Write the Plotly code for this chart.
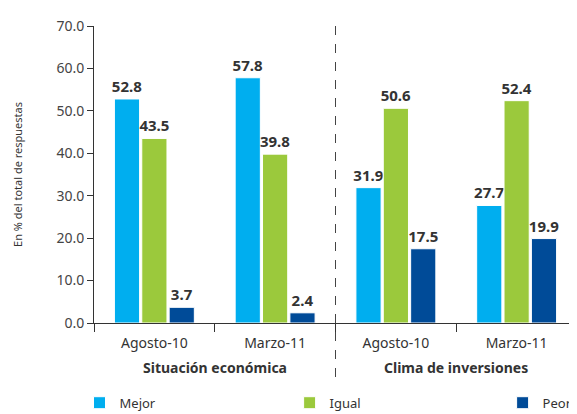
import plotly.graph_objects as go

categories = ["Agosto-10 ", "Marzo-11 ", "Agosto-10", "Marzo-11"]
tick_labels = ["Agosto-10", "Marzo-11", "Agosto-10", "Marzo-11"]
group_labels = ["Situación económica", "Clima de inversiones"]
series_names = ["Mejor", "Igual", "Peor"]
mejor = [52.8, 57.8, 31.9, 27.7]
igual = [43.5, 39.8, 50.6, 52.4]
peor = [3.7, 2.4, 17.5, 19.9]
colors = ["#00AEEF", "#9BC93C", "#004B98"]
legend_ids = ["legend", "legend2", "legend3"]

fig = go.Figure()
for name, vals, col, lg in zip(series_names, [mejor, igual, peor], colors, legend_ids):
    fig.add_trace(go.Bar(
        x=categories, y=vals, name=name, legend=lg,
        marker=dict(color=col, line=dict(color="white", width=1)),
        text=vals, texttemplate="%{y:.1f}", textposition="outside",
        constraintext="none",
        textfont=dict(family="Noto Sans", size=15, color="#333333", weight="bold"),
        cliponaxis=False,
    ))

leg_common = dict(orientation="h", xanchor="left", y=-0.218, yanchor="top",
                  font=dict(size=13, color="#333333"), bgcolor="rgba(0,0,0,0)")
fig.update_layout(
    width=569, height=406,
    margin=dict(l=86, r=0, t=18, b=91, autoexpand=False),
    paper_bgcolor="white", plot_bgcolor="white",
    barmode="group", bargap=0.32, bargroupgap=0.08,
    font=dict(family="Noto Sans", size=13, color="#333333"),
    showlegend=True,
    legend=dict(x=-0.03, **leg_common),
    legend2=dict(x=0.405, **leg_common),
    legend3=dict(x=0.846, **leg_common),
    xaxis=dict(
        tickmode="array", tickvals=categories, ticktext=tick_labels,
        tickson="boundaries", ticks="outside", ticklen=8, tickcolor="#333333",
        ticklabelstandoff=7,
        showline=True, linecolor="#333333", linewidth=1,
        range=[-0.5, 3.5], showgrid=False, automargin=False,
        tickfont=dict(size=14, color="#333333"),
    ),
    yaxis=dict(
        range=[0, 70], dtick=10, tickformat=".1f",
        ticks="outside", ticklen=6, tickcolor="#333333",
        showline=True, linecolor="#333333", linewidth=1,
        showgrid=False, zeroline=False, automargin=False,
        tickfont=dict(size=14, color="#444444"),
        title=dict(text="En % del total de respuestas", font=dict(size=11, color="#333333"), standoff=31),
    ),
)

fig.add_shape(type="line", xref="x", yref="paper", x0=1.5, x1=1.5, y0=1.0, y1=-0.19,
              line=dict(color="#444444", width=1, dash="dash"))

for i, g in enumerate(group_labels):
    fig.add_annotation(x=0.5 + 2 * i, xref="x", y=-0.111, yref="paper", yanchor="top",
                       text="<b>" + g + "</b>", showarrow=False,
                       font=dict(size=14, color="#333333"))

fig.write_html("out.html")
